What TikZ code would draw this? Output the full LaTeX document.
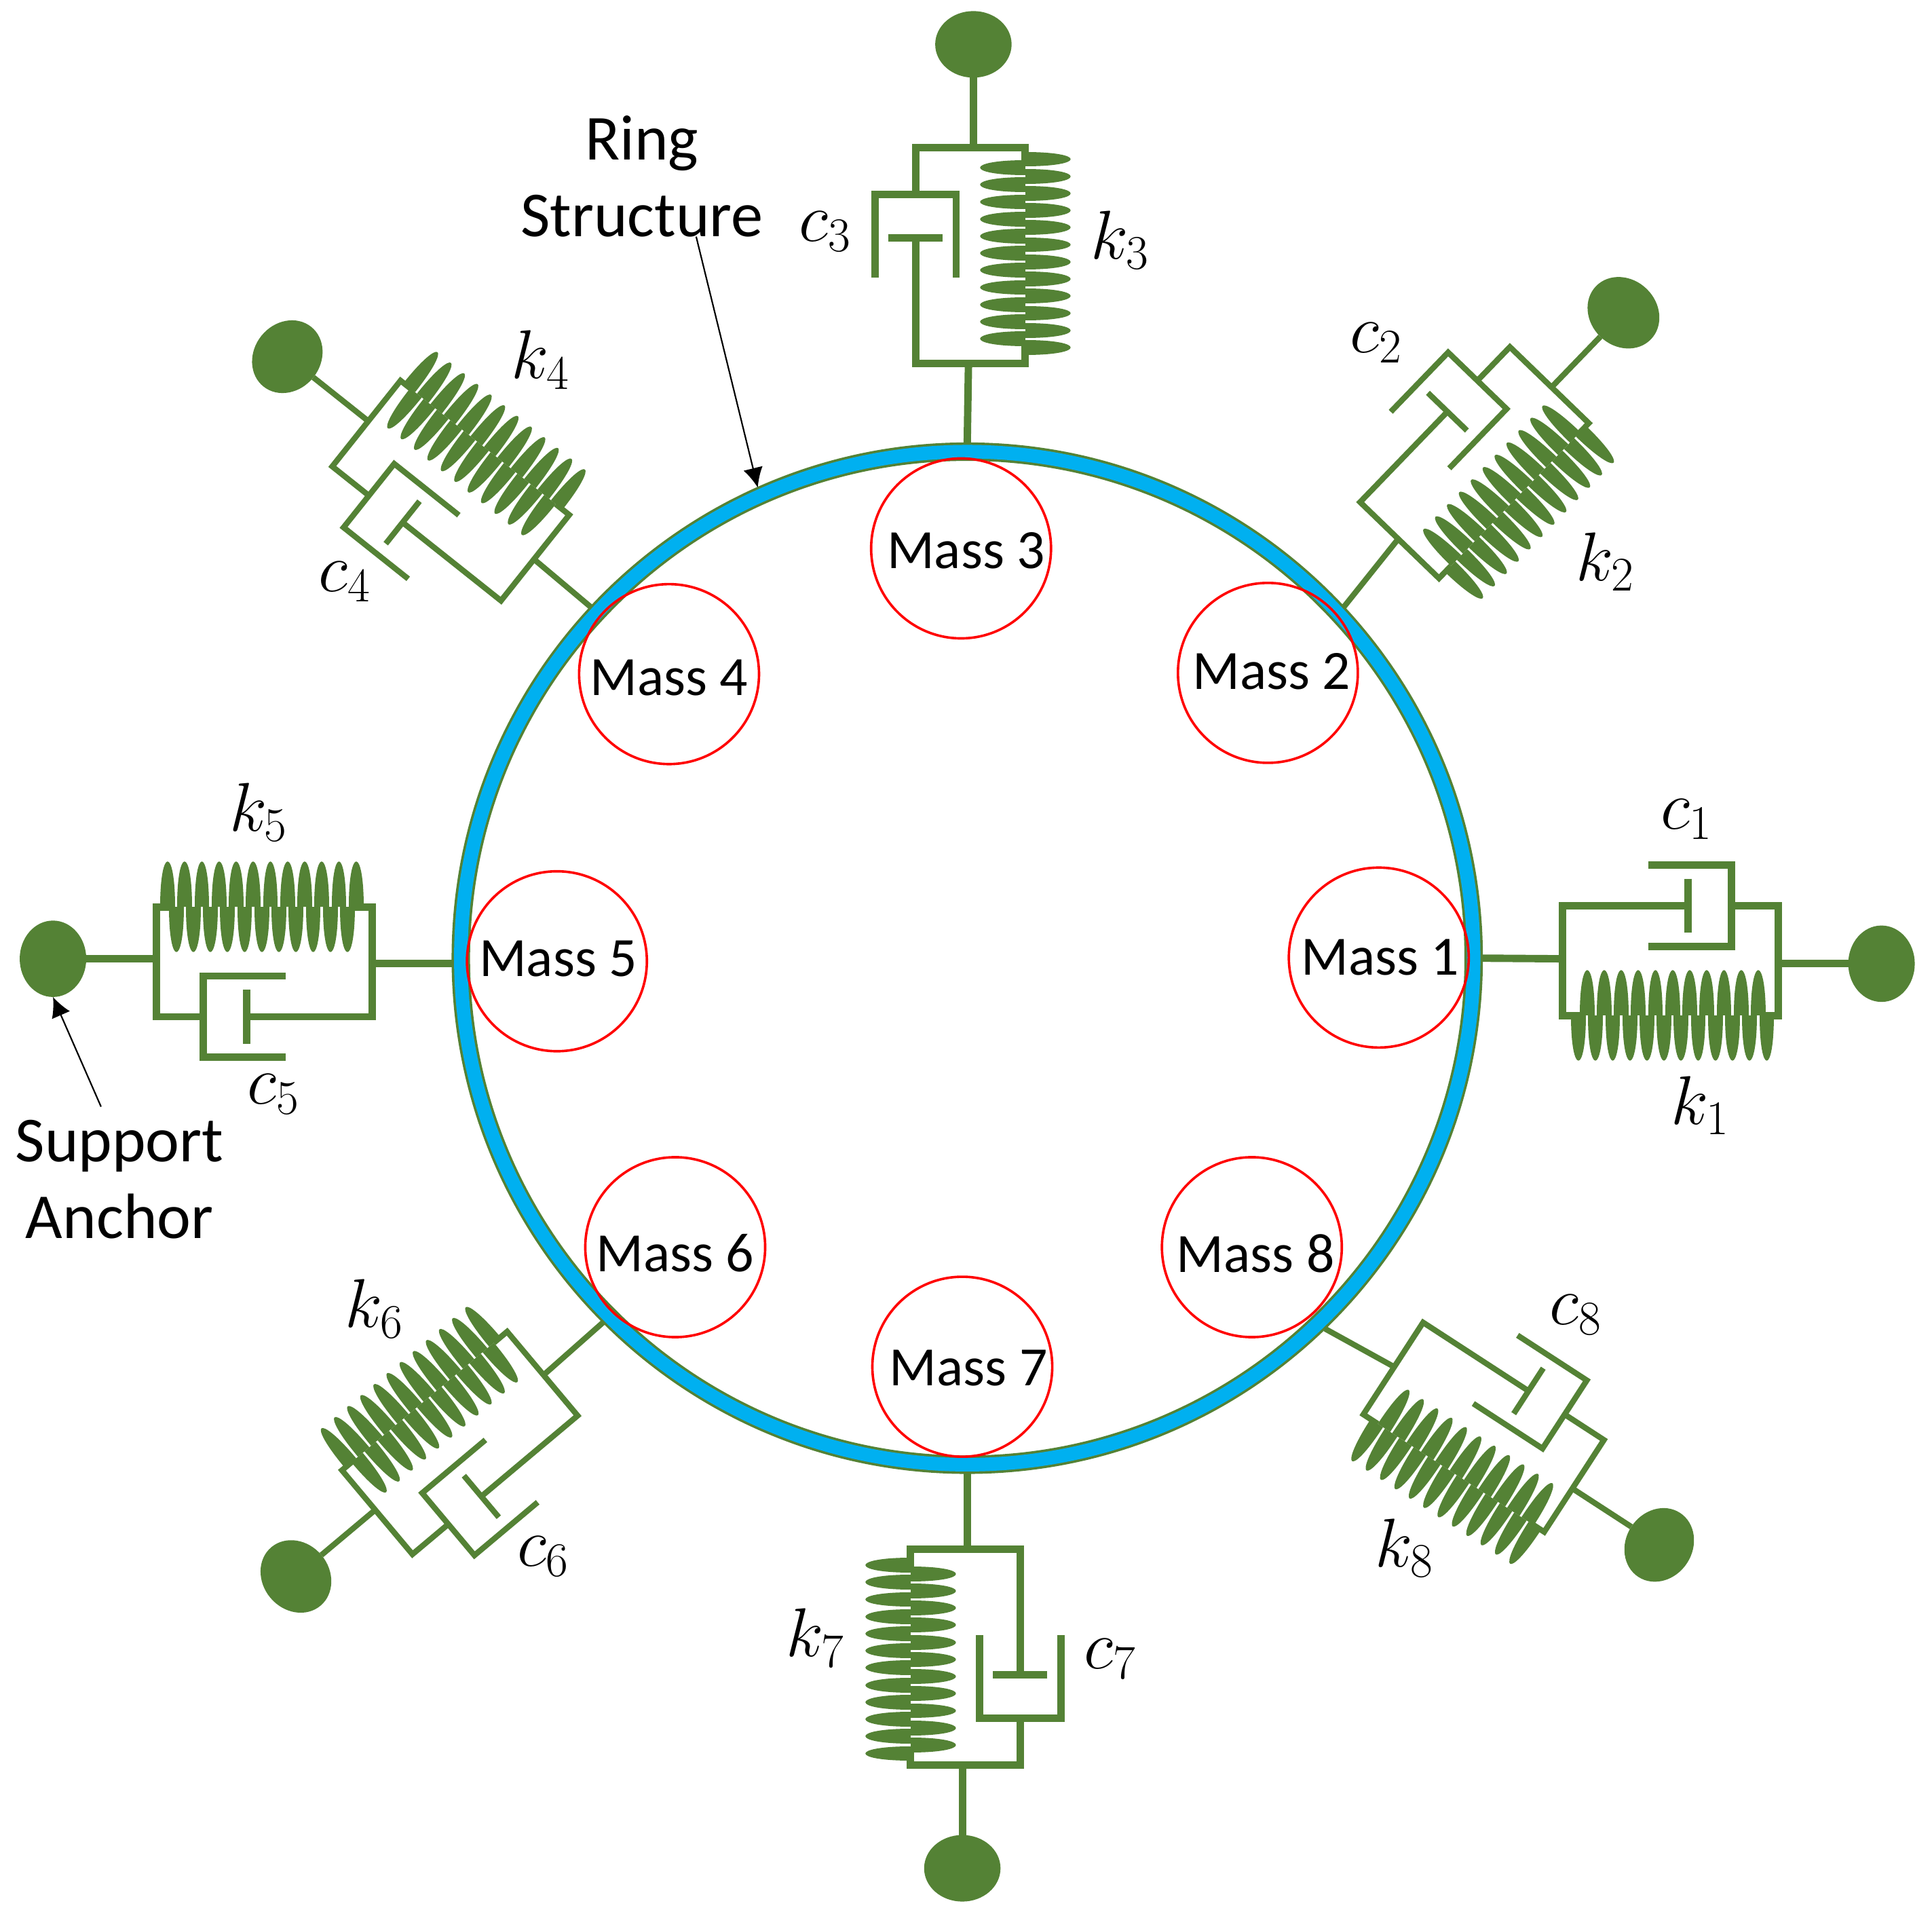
\documentclass[tikz,border=0pt]{standalone}
\usepackage{fix-cm}
\usepackage{fontspec}
\setmainfont{Carlito}
\usetikzlibrary{shapes.geometric,arrows.meta}
\definecolor{ringgreen}{HTML}{548235}
\definecolor{ringblue}{HTML}{00B0F0}

\begin{document}
\begin{tikzpicture}[x=0.5pt,y=-0.5pt]

	\tikzstyle{ring}=[circle,draw=ringgreen,line width=1pt,double=ringblue,
		double distance=5.5pt,minimum size=411pt,outer sep=3.5pt,inner sep=0pt]
	\tikzstyle{mass}=[circle,draw=red,line width=1pt,minimum size=73pt,inner sep=0pt]
	\tikzstyle{masstext}=[inner sep=0pt,font=\fontsize{22.5}{27}\selectfont]
	\tikzstyle{wire}=[draw=ringgreen]
	\tikzstyle{axial}=[line width=3pt]
	\tikzstyle{diagonal}=[line width=2.3pt]
	\tikzstyle{dot}=[ellipse,fill=ringgreen,minimum width=27pt,
		minimum height=31pt,inner sep=0pt,outer sep=0pt,transform shape]
	\tikzstyle{symbol}=[font=\fontsize{28}{32}\selectfont,inner sep=0pt]
	\tikzstyle{note}=[align=center,font=\fontsize{26}{31}\selectfont,inner sep=0pt]
	\tikzstyle{pointer}=[black,line width=0.6pt,-{Latex[length=8pt,width=8pt]}]

	% local frame: first axis from ring to anchor, damper at -44, spring at +45
	\tikzset{mount/.pic={
		\coordinate (-in) at (0,-1);
		\coordinate (-out) at (175,3);
		\draw[wire] (14,45) -- (0,45) -- (0,-44) -- (102,-44);
		\draw[wire] (102,-66) -- (102,-22);
		\draw[wire] (70,-77) -- (137,-77) -- (137,-11) -- (70,-11);
		\draw[wire] (137,-44) -- (175,-44) -- (175,45) -- (161,45);
		\foreach \i in {0,...,11}{
			\pgfmathsetmacro\a{13+\i*13.9}
			\fill[ringgreen] (\a-6,45) .. controls (\a-6,94) and (\a+6,94) .. (\a+6,45) -- cycle;
		}
		\foreach \i in {0,...,10}{
			\pgfmathsetmacro\a{20+\i*13.9}
			\fill[ringgreen] (\a-6,45) .. controls (\a-6,-4) and (\a+6,-4) .. (\a+6,45) -- cycle;
		}
		\node[dot] (-dot) at (259,3) {};
	}}

	\useasboundingbox (0,0) rectangle (1568,1551);

	\node[ring] (ring) at (785,777.5) {};

	\node[mass,label={[masstext,shift={(0.5pt,0pt)}]center:Mass 1}] (mass1) at (1119,777) {};
	\node[mass,label={[masstext,shift={(1.5pt,0.5pt)}]center:Mass 2}] (mass2) at (1029,546) {};
	\node[mass,label={[masstext,shift={(2pt,-1pt)}]center:Mass 3}] (mass3) at (780,445) {};
	\node[mass,label={[masstext,shift={(0pt,-1.5pt)}]center:Mass 4}] (mass4) at (543,547) {};
	\node[mass,label={[masstext,shift={(0.5pt,1pt)}]center:Mass 5}] (mass5) at (452,780) {};
	\node[mass,label={[masstext,shift={(0pt,-2.5pt)}]center:Mass 6}] (mass6) at (548,1012) {};
	\node[mass,label={[masstext,shift={(2.5pt,-0.5pt)}]center:Mass 7}] (mass7) at (781,1109) {};
	\node[mass,label={[masstext,shift={(1.5pt,-2.5pt)}]center:Mass 8}] (mass8) at (1016,1012) {};

	\pic[axial,rotate=0] (m1) at (1268,779) {mount};
	\pic[diagonal,rotate=46] (m2) at (1135.5,438) {mount};
	\pic[axial,rotate=90] (m3) at (787,295) {mount};
	\pic[diagonal,rotate=141.5] (m4) at (434,453) {mount};
	\pic[axial,rotate=180] (m5) at (302,781) {mount};
	\pic[diagonal,rotate=220] (m6) at (440.5,1115) {mount};
	\pic[axial,rotate=270] (m7) at (784,1257) {mount};
	\pic[diagonal,rotate=-33] (m8) at (1131,1110) {mount};

	\draw[wire,axial] (ring.0) -- (m1-in);
	\draw[wire,diagonal] (ring.43.5) -- (m2-in);
	\draw[wire,axial] (ring.90) -- (m3-in);
	\draw[wire,diagonal] (ring.137) -- (m4-in);
	\draw[wire,axial] (m5-in -| ring.180) -- (m5-in);
	\draw[wire,diagonal] (ring.225) -- (m6-in);
	\draw[wire,axial] (ring.270) -- (m7-in);
	\draw[wire,diagonal] (ring.314) -- (m8-in);

	\draw[wire,axial] (m1-out) -- (m1-dot);
	\draw[wire,diagonal] (m2-out) -- (m2-dot);
	\draw[wire,axial] (m3-out) -- (m3-dot);
	\draw[wire,diagonal] (m4-out) -- (m4-dot);
	\draw[wire,axial] (m5-out) -- (m5-dot);
	\draw[wire,diagonal] (m6-out) -- (m6-dot);
	\draw[wire,axial] (m7-out) -- (m7-dot);
	\draw[wire,diagonal] (m8-out) -- (m8-dot);

	\node[symbol] (c1) at (1369,665) {$c_1$};
	\node[symbol] (k1) at (1380,897) {$k_1$};
	\node[symbol] (c2) at (1117,278) {$c_2$};
	\node[symbol] (k2) at (1303,456) {$k_2$};
	\node[symbol] (c3) at (670,188) {$c_3$};
	\node[symbol] (k3) at (909,195) {$k_3$};
	\node[symbol] (c4) at (280,472) {$c_4$};
	\node[symbol] (k4) at (439,292) {$k_4$};
	\node[symbol] (c5) at (222,888) {$c_5$};
	\node[symbol] (k5) at (210,659) {$k_5$};
	\node[symbol] (c6) at (441,1263) {$c_6$};
	\node[symbol] (k6) at (304,1062) {$k_6$};
	\node[symbol] (c7) at (901,1346) {$c_7$};
	\node[symbol] (k7) at (662,1329) {$k_7$};
	\node[symbol] (c8) at (1279,1067) {$c_8$};
	\node[symbol] (k8) at (1140,1256) {$k_8$};

	\node[note] (ringlabel) at (521,143) {Ring\\Structure};
	\node[note] (anchorlabel) at (97,957) {Support\\Anchor};

	\coordinate (ringtail) at (565,192);
	\coordinate (anchortail) at (82,898);
	\draw[pointer] (ringtail) -- (ring.114);
	\draw[pointer] (anchortail) -- (m5-dot.north);

\end{tikzpicture}
\end{document}
